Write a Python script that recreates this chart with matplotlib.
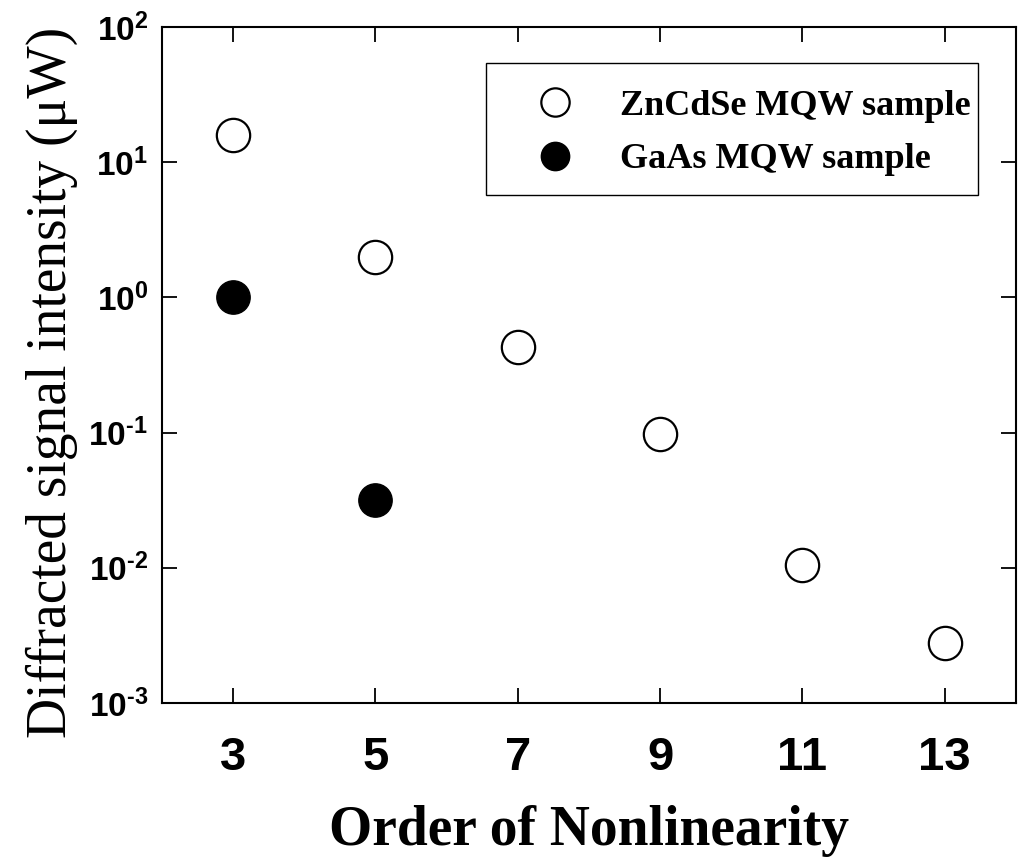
import numpy as np
import matplotlib
matplotlib.use('Agg')
import matplotlib.pyplot as plt
from matplotlib.patches import Rectangle
from matplotlib.ticker import FixedLocator, FuncFormatter, NullLocator

plt.rcParams['mathtext.fontset'] = 'custom'
plt.rcParams['mathtext.rm'] = 'Liberation Sans:bold'
plt.rcParams['mathtext.bf'] = 'Liberation Sans:bold'

# diffracted intensity vs. order of the nonlinear process
orders_zn = [3, 5, 7, 9, 11, 13]
signal_zn = [16.0, 2.0, 0.43, 0.097, 0.0105, 0.0028]
orders_gaas = [3, 5]
signal_gaas = [1.0, 0.032]
x_ticks = [3, 5, 7, 9, 11, 13]
y_decades = [1e-3, 1e-2, 1e-1, 1e0, 1e1, 1e2]


def decade_label(v, pos):
    e = int(round(np.log10(v)))
    if e < 0:
        return r'$\mathbf{10^{\text{-}%d}}$' % -e
    return r'$\mathbf{10^{%d}}$' % e


fig = plt.figure(figsize=(10.18, 8.64), dpi=100)
ax = fig.add_axes([0.159, 0.1863, 0.839, 0.7825])

ax.plot(orders_zn, signal_zn, 'o', ms=24, mfc='white', mec='black', mew=1.6,
        ls='none', label='ZnCdSe MQW sample')
ax.plot(orders_gaas, signal_gaas, 'o', ms=24, mfc='black', mec='black',
        ls='none', label='GaAs MQW sample')

ax.set_yscale('log')
ax.set_xlim(2, 14)
ax.set_ylim(1e-3, 1e2)

ax.xaxis.set_major_locator(FixedLocator(x_ticks))
ax.yaxis.set_major_locator(FixedLocator(y_decades))
ax.yaxis.set_minor_locator(NullLocator())
ax.yaxis.set_major_formatter(FuncFormatter(decade_label))

ax.tick_params(which='major', direction='in', length=11, width=1.3,
               top=True, right=True)
ax.tick_params(axis='x', pad=24)
ax.tick_params(axis='y', pad=10, labelsize=24)
for lab in ax.get_xticklabels():
    lab.set_fontfamily('Liberation Sans')
    lab.set_fontweight('bold')
    lab.set_fontsize(34)

for s in ax.spines.values():
    s.set_linewidth(1.5)

ax.set_xlabel('Order of Nonlinearity', fontfamily='Liberation Serif',
              fontweight='bold', fontsize=40, labelpad=18)
ax.set_ylabel('Diffracted signal intensity (\u03bcW)', fontfamily='Liberation Serif',
              fontsize=40)
ax.yaxis.set_label_coords(-0.098, 0.475)

# legend box drawn separately, entries placed inside it
ax.add_patch(Rectangle((0.379, 0.7515), 0.576, 0.1952, transform=ax.transAxes,
                       fill=False, ec='black', lw=1.0, zorder=4))
leg = ax.legend(loc='upper left', bbox_to_anchor=(0.439, 0.907), frameon=False,
                prop={'family': 'Liberation Serif', 'weight': 'bold', 'size': 26},
                markerscale=0.85, handlelength=1.0, handletextpad=1.3,
                borderpad=0, borderaxespad=0, labelspacing=0.55)

fig.savefig('out.png', dpi=100)
